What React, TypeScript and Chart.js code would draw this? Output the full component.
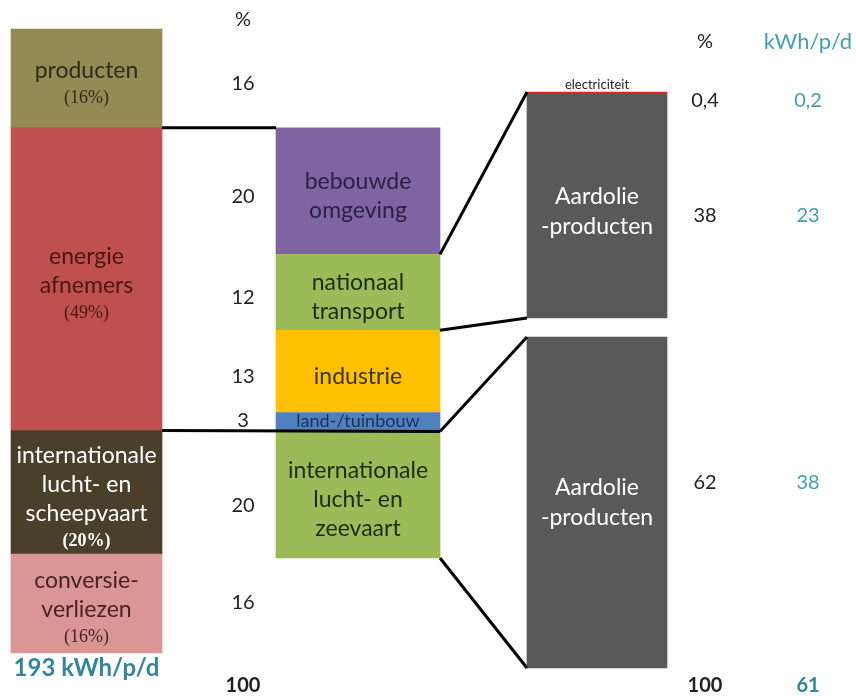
import React, { useEffect, useRef } from 'react';
import { Chart, registerables } from 'chart.js';

Chart.register(...registerables);

// ---------------- data ----------------
const sourceLines = [
  ['producten'],
  ['energie', 'afnemers'],
  ['internationale', 'lucht- en', 'scheepvaart'],
  ['conversie-', 'verliezen'],
];
const sourcePct = [16, 49, 20, 16];

const sectorLines = [
  ['bebouwde', 'omgeving'],
  ['nationaal', 'transport'],
  ['industrie'],
  ['land-/tuinbouw'],
  ['internationale', 'lucht- en', 'zeevaart'],
];
const sectorPct = [20, 12, 13, 3, 20];

const carrierLines = [['electriciteit'], ['Aardolie', '-producten'], ['Aardolie', '-producten']];
const carrierPct = [0.4, 38, 62];
const carrierKwh = [0.2, 23, 38];

const totalSourceKwh = 193;
const totalPct = 100;
const totalCarrierKwh = 61;

// ---------------- layout & style ----------------
const W = 856;
const H = 696;
const COL_L = [11, 162];
const COL_M = [276, 440];
const COL_R = [527, 667];
const PCT_X = 243;
const PCT2_X = 705;
const KWH_X = 808;
const LEFT_TOP_PX = 29;
const LEFT_BOTTOM_PX = 653;
const MID_BOTTOM_PX = 558;
const RIGHT_TOP_PX = 92;
const RIGHT_SPLIT_PX = 318;
const RIGHT_LOWER_TOP_PX = 337;
const RIGHT_BOTTOM_PX = 668;
const TEXT_SHIFT = 5;

const SOURCE_COLORS = ['#948A54', '#C0504D', '#4A3F2B', '#D99694'];
const SECTOR_COLORS = ['#8064A2', '#9BBB59', '#FFC000', '#4F81BD', '#9BBB59'];
const CARRIER_COLORS = ['#E02424', '#595959', '#595959'];
const SOURCE_TEXT = ['#2E2B1A', '#4A1616', '#FFFFFF', '#4A2222'];
const SECTOR_TEXT = ['#2B2045', '#1F2A10', '#3A3320', '#1F2F5A', '#1F2A10'];
const TEAL = '#3FA0B4';
const TEAL_DARK = '#31859C';
const FONT = 'Lato, "Open Sans", sans-serif';
const SERIF = '"Liberation Serif", serif';

// ---------------- helpers ----------------
const sum = (a: number[]) => a.reduce((s, v) => s + v, 0);
const starts = (arr: number[], start = 0) =>
  arr.map((_, i) => start + sum(arr.slice(0, i)));
const fmt = (v: number) => String(v).replace('.', ',');

function rangeFor(v0: number, p0: number, v1: number, p1: number) {
  const s = (p1 - p0) / (v1 - v0);
  const min = v0 - p0 / s;
  return { min, max: min + H / s };
}

const srcStart = starts(sourcePct);
const secStart = starts(sectorPct, sourcePct[0]);
const carStart = starts(carrierPct);
const upperEnd = carrierPct[0] + carrierPct[1];
const secEnd = secStart[4] + sectorPct[4];

const yR = rangeFor(0, LEFT_TOP_PX, sum(sourcePct), LEFT_BOTTOM_PX);
const leftPx = (v: number) => ((v - yR.min) / (yR.max - yR.min)) * H;
const yMR = rangeFor(secStart[0], leftPx(srcStart[1]), secEnd, MID_BOTTOM_PX);
const y2R = rangeFor(0, RIGHT_TOP_PX, upperEnd, RIGHT_SPLIT_PX);
const y3R = rangeFor(upperEnd, RIGHT_LOWER_TOP_PX, upperEnd + carrierPct[2], RIGHT_BOTTOM_PX);

const cx = (c: number[]) => (c[0] + c[1]) / 2;

function barDataset(vals: number[], st: number[], col: number[], colors: string[], axis: string) {
  return {
    type: 'bar' as const,
    data: vals.map((v, i) => ({ x: cx(col), y: [st[i], st[i] + v] })),
    backgroundColor: colors,
    yAxisID: axis,
    grouped: false,
    maxBarThickness: col[1] - col[0],
    categoryPercentage: 1,
    barPercentage: 1,
    borderWidth: 0,
  };
}

type Item = { text: string; font: string; color: string; lh: number };
function drawBlock(ctx: CanvasRenderingContext2D, items: Item[], x: number, yc: number) {
  const total = items.reduce((a, it) => a + it.lh, 0);
  let yy = yc - total / 2;
  for (const it of items) {
    ctx.font = it.font;
    ctx.fillStyle = it.color;
    ctx.fillText(it.text, x, yy + it.lh / 2);
    yy += it.lh;
  }
}

const connectorPlugin = {
  id: 'connectors',
  afterDatasetsDraw(chart: any) {
    const { ctx, scales } = chart;
    const { x, y, yM, y2, y3 } = scales;
    const xL1 = x.getPixelForValue(COL_L[1]);
    const xM0 = x.getPixelForValue(COL_M[0]);
    const xM1 = x.getPixelForValue(COL_M[1]);
    const xR0 = x.getPixelForValue(COL_R[0]);
    ctx.save();
    ctx.strokeStyle = '#000';
    ctx.lineWidth = 3;
    const seg = (a: number, b: number, c: number, d: number) => {
      ctx.beginPath();
      ctx.moveTo(a, b);
      ctx.lineTo(c, d);
      ctx.stroke();
    };
    const yTop = y.getPixelForValue(srcStart[1]);
    const yIntlL = y.getPixelForValue(srcStart[2]);
    const yIntlM = yM.getPixelForValue(secStart[4]);
    seg(xL1, yTop, xM0, yM.getPixelForValue(secStart[0]));
    seg(xL1, yIntlL, xM1, yIntlM);
    seg(xM1, yM.getPixelForValue(secStart[1]), xR0, y2.getPixelForValue(carStart[0]));
    seg(xM1, yM.getPixelForValue(secStart[2]), xR0, y2.getPixelForValue(upperEnd));
    seg(xM1, yIntlM, xR0, y3.getPixelForValue(upperEnd));
    seg(xM1, yM.getPixelForValue(secEnd), xR0, y3.getPixelForValue(upperEnd + carrierPct[2]));
    ctx.restore();
  },
};

const textPlugin = {
  id: 'texts',
  afterDatasetsDraw(chart: any) {
    const { ctx, scales } = chart;
    const { x, y, yM, y2, y3 } = scales;
    ctx.save();
    ctx.textAlign = 'center';
    ctx.textBaseline = 'middle';
    const main = `23px ${FONT}`;

    // left column labels
    sourcePct.forEach((v, i) => {
      const items: Item[] = sourceLines[i].map((t) => ({ text: t, font: main, color: SOURCE_TEXT[i], lh: 29 }));
      items.push({ text: `(${v}%)`, font: `${i === 2 ? 'bold ' : ''}18px ${SERIF}`, color: SOURCE_TEXT[i], lh: 26 });
      drawBlock(ctx, items, x.getPixelForValue(cx(COL_L)), y.getPixelForValue(srcStart[i] + v / 2) + TEXT_SHIFT);
    });

    // middle column labels
    sectorPct.forEach((v, i) => {
      const small = sectorLines[i].length === 1 && v < 5;
      const items: Item[] = sectorLines[i].map((t) => ({
        text: t,
        font: small ? `18px ${FONT}` : main,
        color: SECTOR_TEXT[i],
        lh: small ? 20 : 29,
      }));
      drawBlock(ctx, items, x.getPixelForValue(cx(COL_M)), yM.getPixelForValue(secStart[i] + v / 2) + (small ? -1 : TEXT_SHIFT));
    });

    // right column labels
    const rAxis = [y2, y2, y3];
    const rx = x.getPixelForValue(cx(COL_R));
    ctx.font = `13px ${FONT}`;
    ctx.fillStyle = '#222';
    ctx.fillText(carrierLines[0][0], rx, y2.getPixelForValue(carStart[0]) - 7);
    [1, 2].forEach((i) => {
      const items: Item[] = carrierLines[i].map((t) => ({ text: t, font: main, color: '#FFFFFF', lh: 30 }));
      drawBlock(ctx, items, rx, rAxis[i].getPixelForValue(carStart[i] + carrierPct[i] / 2) + (i === 1 ? TEXT_SHIFT : 0));
    });

    // percent column (left)
    const pctFont = `20px ${FONT}`;
    ctx.fillStyle = '#222';
    ctx.font = pctFont;
    const px = x.getPixelForValue(PCT_X);
    ctx.fillText('%', px, y.getPixelForValue(0) - 9);
    const pctRows: [number, number][] = [
      [sourcePct[0], y.getPixelForValue(srcStart[0] + sourcePct[0] / 2) + TEXT_SHIFT],
      ...sectorPct.slice(0, 4).map(
        (v, i) => [v, yM.getPixelForValue(secStart[i] + v / 2) + (v < 5 ? -1 : TEXT_SHIFT)] as [number, number]
      ),
      [sourcePct[2], y.getPixelForValue(srcStart[2] + sourcePct[2] / 2) + 8 + TEXT_SHIFT],
      [sourcePct[3], y.getPixelForValue(srcStart[3] + sourcePct[3] / 2) - 6 + TEXT_SHIFT],
    ];
    pctRows.forEach(([v, c]) => ctx.fillText(fmt(v), px, c));
    const bottomY = y.getPixelForValue(sum(sourcePct));
    ctx.font = `bold 20px ${FONT}`;
    ctx.fillText(String(totalPct), px, bottomY + 33);

    ctx.fillStyle = TEAL_DARK;
    ctx.font = `bold 24px ${FONT}`;
    ctx.fillText(`${totalSourceKwh} kWh/p/d`, x.getPixelForValue(cx(COL_L)), bottomY + 15);

    // right-hand columns
    const p2 = x.getPixelForValue(PCT2_X);
    const kx = x.getPixelForValue(KWH_X);
    const headY = y2.getPixelForValue(0) - 50;
    ctx.font = pctFont;
    ctx.fillStyle = '#222';
    ctx.fillText('%', p2, headY);
    ctx.fillStyle = TEAL;
    ctx.font = `22px ${FONT}`;
    ctx.fillText('kWh/p/d', kx, headY);
    ctx.font = pctFont;
    const rowShift = [7, 9, -20];
    carrierPct.forEach((v, i) => {
      const yc = rAxis[i].getPixelForValue(carStart[i] + v / 2) + rowShift[i];
      ctx.fillStyle = '#222';
      ctx.fillText(fmt(v), p2, yc);
      ctx.fillStyle = TEAL;
      ctx.fillText(fmt(carrierKwh[i]), kx, yc);
    });
    ctx.font = `bold 20px ${FONT}`;
    ctx.fillStyle = '#222';
    ctx.fillText(String(totalPct), p2, bottomY + 33);
    ctx.fillStyle = TEAL_DARK;
    ctx.fillText(String(totalCarrierKwh), kx, bottomY + 33);
    ctx.restore();
  },
};

export default function App() {
  const ref = useRef<HTMLCanvasElement>(null);
  useEffect(() => {
    document.body.style.margin = '0';
    const chart = new Chart(ref.current as HTMLCanvasElement, {
      type: 'bar',
      data: {
        datasets: [
          barDataset(sourcePct, srcStart, COL_L, SOURCE_COLORS, 'y'),
          barDataset(sectorPct, secStart, COL_M, SECTOR_COLORS, 'yM'),
          barDataset(carrierPct.slice(0, 2), carStart.slice(0, 2), COL_R, CARRIER_COLORS.slice(0, 2), 'y2'),
          barDataset(carrierPct.slice(2), carStart.slice(2), COL_R, CARRIER_COLORS.slice(2), 'y3'),
        ] as any,
      },
      options: {
        responsive: false,
        animation: false,
        events: [],
        layout: { padding: 0 },
        plugins: { legend: { display: false }, tooltip: { enabled: false }, title: { display: false } },
        scales: {
          x: { type: 'linear', min: 0, max: W, display: false, offset: false, ticks: { stepSize: 1000 }, grid: { display: false } },
          y: { type: 'linear', reverse: true, min: yR.min, max: yR.max, display: false, beginAtZero: false },
          yM: { type: 'linear', reverse: true, min: yMR.min, max: yMR.max, display: false, beginAtZero: false },
          y2: { type: 'linear', reverse: true, min: y2R.min, max: y2R.max, display: false, beginAtZero: false },
          y3: { type: 'linear', reverse: true, min: y3R.min, max: y3R.max, display: false, beginAtZero: false },
        },
      } as any,
      plugins: [connectorPlugin, textPlugin],
    });
    return () => chart.destroy();
  }, []);
  return <canvas ref={ref} width={W} height={H} style={{ display: 'block' }} />;
}
